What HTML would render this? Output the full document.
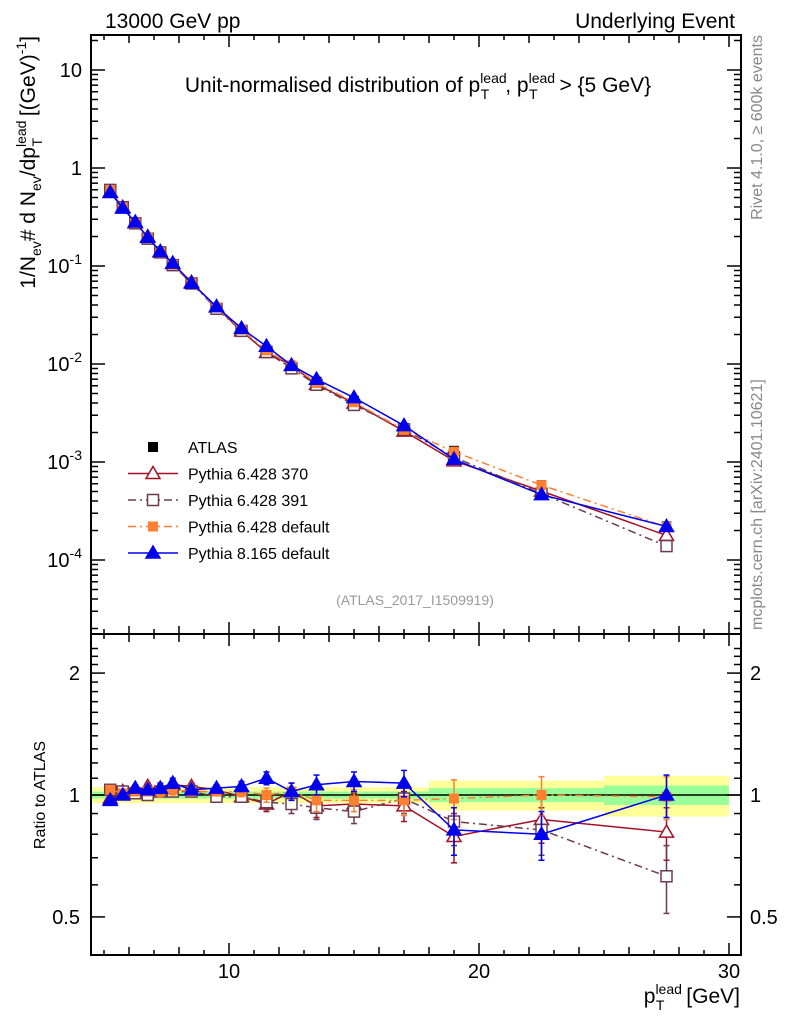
<!DOCTYPE html>
<html><head><meta charset="utf-8"><style>
body{margin:0;background:#fff}
svg{font-family:"Liberation Sans",sans-serif}
</style></head><body>
<svg id="c" width="786" height="1024" xmlns="http://www.w3.org/2000/svg">
<text x="105" y="28" font-size="21">13000 GeV pp</text>
<text x="735" y="28" font-size="21" text-anchor="end">Underlying Event</text>
<text x="418" y="92" font-size="21" text-anchor="middle">Unit-normalised distribution of p<tspan font-size="14" dy="-9">lead</tspan><tspan font-size="14" dx="-26" dy="16">T</tspan><tspan dy="-7" dx="16">, p</tspan><tspan font-size="14" dy="-9">lead</tspan><tspan font-size="14" dx="-26" dy="16">T</tspan><tspan dy="-7" dx="16"> &gt; {5 GeV}</tspan></text>
<text transform="translate(35,36) rotate(-90)" font-size="21" text-anchor="end">1/N<tspan font-size="14" dy="6">ev</tspan><tspan dy="-6"># d N</tspan><tspan font-size="14" dy="6">ev</tspan><tspan dy="-6">/dp</tspan><tspan font-size="14" dy="-9">lead</tspan><tspan font-size="14" dx="-26" dy="16">T</tspan><tspan dy="-7" dx="16"> [(GeV)</tspan><tspan font-size="14" dy="-9">-1</tspan><tspan dy="9">]</tspan></text>
<text transform="translate(45,795) rotate(-90)" font-size="16" text-anchor="middle">Ratio to ATLAS</text>
<text x="740" y="1003" font-size="21" text-anchor="end">p<tspan font-size="14" dy="-9">lead</tspan><tspan font-size="14" dx="-26" dy="16">T</tspan><tspan dy="-7" dx="16"> [GeV]</tspan></text>
<text transform="translate(762,35) rotate(-90)" font-size="16" fill="#888" text-anchor="end">Rivet 4.1.0, ≥ 600k events</text>
<text transform="translate(762,630) rotate(-90)" font-size="16" fill="#888">mcplots.cern.ch [arXiv:2401.10621]</text>
<text x="415" y="605" font-size="14" fill="#999" text-anchor="middle">(ATLAS_2017_I1509919)</text>
<g id="g"></g>
</svg>
<script>
const xc=[5.25,5.75,6.25,6.75,7.25,7.75,8.5,9.5,10.5,11.5,12.5,13.5,15,17,19,22.5,27.5];
const atlas=[0.58,0.39,0.27,0.19,0.135,0.1,0.065,0.037,0.022,0.0138,0.0095,0.0066,0.0042,0.0022,0.0013,0.00058,0.00022];
const r370=[0.98,1.02,1.02,1.05,1.03,1.06,1.05,1.03,0.99,0.95,1.02,0.94,0.95,0.94,0.79,0.87,0.81];
const r391=[1.03,1.02,1.01,1.0,1.02,1.02,1.02,0.99,0.99,0.96,0.95,0.93,0.91,0.98,0.86,0.82,0.63];
const r64d=[1.03,1.01,1.02,1.02,1.02,1.03,1.02,1.02,1.02,1.0,1.02,0.97,0.97,0.97,0.98,1.0,0.99];
const r8=[0.97,1.0,1.04,1.03,1.04,1.07,1.03,1.04,1.05,1.1,1.02,1.06,1.08,1.07,0.82,0.80,1.0];
const rerr=[0.02,0.02,0.02,0.02,0.03,0.03,0.02,0.02,0.03,0.04,0.05,0.06,0.06,0.08,0.11,0.11,0.12];
const bandEdges=[4.5,18,25,30];
const bandYellow=[0.045,0.085,0.115];
const bandGreen=[0.02,0.04,0.055];
const g=document.getElementById('g');const NS='http://www.w3.org/2000/svg';
function el(t,a,p){const e=document.createElementNS(NS,t);for(const k in a)e.setAttribute(k,a[k]);(p||g).appendChild(e);return e;}
const L=91,R=741,T=35,D=634,B=955;
const X=v=>229+(v-10)*25;
const Y=v=>70-(Math.log10(v)-1)*98;
const RY=v=>795-Math.log10(v)*405;
for(let i=0;i<3;i++){
 let e=el('rect',{x:X(bandEdges[i]),width:X(bandEdges[i+1])-X(bandEdges[i]),y:RY(1+bandYellow[i]),height:RY(1-bandYellow[i])-RY(1+bandYellow[i]),fill:'#ffff99'});
 
 e=el('rect',{x:X(bandEdges[i]),width:X(bandEdges[i+1])-X(bandEdges[i]),y:RY(1+bandGreen[i]),height:RY(1-bandGreen[i])-RY(1+bandGreen[i]),fill:'#99ff99'});
 
}
el('line',{x1:L,x2:R,y1:RY(1),y2:RY(1),stroke:'#000','stroke-width':1.5});
el('rect',{x:L,y:T,width:R-L,height:B-T,fill:'none',stroke:'#000','stroke-width':2});
el('line',{x1:L,x2:R,y1:D,y2:D,stroke:'#000','stroke-width':2});
for(let v=5;v<=30;v++){const len=v%10==0?12:(v%2==0?8:5);
 for(const y of [D,B]){el('line',{x1:X(v),x2:X(v),y1:y,y2:y-len,stroke:'#000','stroke-width':1.5});}
 for(const y of [T,D]){el('line',{x1:X(v),x2:X(v),y1:y,y2:y+len,stroke:'#000','stroke-width':1.5});}
}
[10,20,30].forEach(v=>{const t=el('text',{x:X(v),y:978,'font-size':20,'text-anchor':'middle'});t.textContent=v;});
const ylab=['10','1','10⁻¹','10⁻²','10⁻³','10⁻⁴'];
for(let d=-5;d<=1;d++){for(let m=1;m<10;m++){const v=m*Math.pow(10,d);const y=Y(v);if(y<T||y>D)continue;const len=m==1?14:7;
 el('line',{x1:L,x2:L+len,y1:y,y2:y,stroke:'#000','stroke-width':1.5});el('line',{x1:R,x2:R-len,y1:y,y2:y,stroke:'#000','stroke-width':1.5});}}
[1,0,-1,-2,-3,-4].forEach((d,i)=>{const t=el('text',{x:82,y:Y(Math.pow(10,d))+7,'font-size':20,'text-anchor':'end'});
 if(d>=0)t.textContent=ylab[i];else{t.innerHTML='10<tspan font-size="14" dy="-9">'+d+'</tspan>';}
 });
for(let v=0.4;v<=2.31;v+=0.1){const y=RY(v);if(y<D||y>B)continue;const maj=Math.abs(v-0.5)<.01||Math.abs(v-1)<.01||Math.abs(v-2)<.01;const len=maj?14:7;
 el('line',{x1:L,x2:L+len,y1:y,y2:y,stroke:'#000','stroke-width':1.5});el('line',{x1:R,x2:R-len,y1:y,y2:y,stroke:'#000','stroke-width':1.5});}
[[2,'2'],[1,'1'],[0.5,'0.5']].forEach(([v,s])=>{for(const [x,a] of [[80,'end'],[750,'start']]){const t=el('text',{x:x,y:RY(v)+7,'font-size':20,'text-anchor':a});t.textContent=s;}});
const series=[
 {n:'pythia-6428-370',r:r370,c:'#a50f23',dash:'',m:'otri'},
 {n:'pythia-6428-391',r:r391,c:'#6b3b50',dash:'8,4,2,4',m:'osq'},
 {n:'pythia-6428-default',r:r64d,c:'#ff8030',dash:'8,4,2,4',m:'fsq'},
 {n:'pythia-8165-default',r:r8,c:'#0000ee',dash:'',m:'ftri'}];
function marker(x,y,m,c,name){let e;
 if(m=='otri'||m=='ftri')e=el('path',{d:`M${x},${y-7}L${x+7},${y+5}L${x-7},${y+5}Z`,fill:m=='ftri'?c:'#fff',stroke:c,'stroke-width':1.5});
 else if(m=='osq')e=el('rect',{x:x-5.5,y:y-5.5,width:11,height:11,fill:'#fff',stroke:c,'stroke-width':1.5});
 else e=el('rect',{x:x-5,y:y-5,width:10,height:10,fill:c});
 }
xc.forEach((x,i)=>{const e=el('rect',{x:X(x)-5,y:Y(atlas[i])-5,width:10,height:10,fill:'#000'});});
series.forEach(s=>{
 const pm=xc.map((x,i)=>X(x)+','+Y(atlas[i]*s.r[i])).join(' ');
 let p=el('polyline',{points:pm,fill:'none',stroke:s.c,'stroke-width':1.5,'stroke-dasharray':s.dash});
 
 const pr=xc.map((x,i)=>X(x)+','+RY(s.r[i])).join(' ');
 p=el('polyline',{points:pr,fill:'none',stroke:s.c,'stroke-width':1.5,'stroke-dasharray':s.dash});
 
 xc.forEach((x,i)=>{const v=s.r[i],er=rerr[i];
  el('line',{x1:X(x),x2:X(x),y1:RY(v+er),y2:RY(v-er),stroke:s.c,'stroke-width':1.5});
  el('line',{x1:X(x)-3,x2:X(x)+3,y1:RY(v+er),y2:RY(v+er),stroke:s.c,'stroke-width':1.5});
  el('line',{x1:X(x)-3,x2:X(x)+3,y1:RY(v-er),y2:RY(v-er),stroke:s.c,'stroke-width':1.5});
  marker(X(x),RY(v),s.m,s.c,s.n+'-ratio-point');
  marker(X(x),Y(atlas[i]*v),s.m,s.c,s.n+'-point');});
});
const lg=[['ATLAS','#000','','atlas'],['Pythia 6.428 370','#a50f23','','otri'],['Pythia 6.428 391','#6b3b50','8,4,2,4','osq'],['Pythia 6.428 default','#ff8030','8,4,2,4','fsq'],['Pythia 8.165 default','#0000ee','','ftri']];
lg.forEach((l,i)=>{const y=447+i*26.5;
 if(l[3]=='atlas'){const e=el('rect',{x:148,y:y-5,width:10,height:10,fill:'#000'});}
 else{el('line',{x1:128,x2:178,y1:y,y2:y,stroke:l[1],'stroke-width':1.5,'stroke-dasharray':l[2]});marker(153,y,l[3],l[1],'legend-marker');}
 const t=el('text',{x:188,y:y+6,'font-size':16});t.textContent=l[0];});
</script>
</body></html>
